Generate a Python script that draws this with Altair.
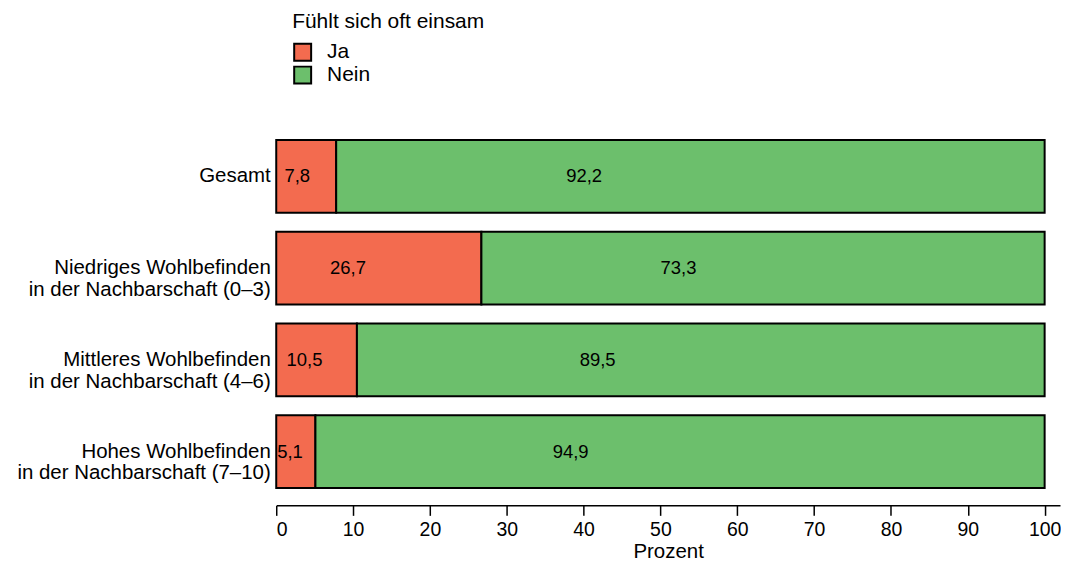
import altair as alt
import pandas as pd

groups = [
    "Gesamt",
    "Niedriges Wohlbefinden\nin der Nachbarschaft (0–3)",
    "Mittleres Wohlbefinden\nin der Nachbarschaft (4–6)",
    "Hohes Wohlbefinden\nin der Nachbarschaft (7–10)",
]
ja_values = [7.8, 26.7, 10.5, 5.1]
nein_values = [92.2, 73.3, 89.5, 94.9]
categories = ["Ja", "Nein"]
colors = ["#F36B4F", "#6CBF6C"]
x_ticks = [0, 10, 20, 30, 40, 50, 60, 70, 80, 90, 100]

rows = []
for g, ja, nein in zip(groups, ja_values, nein_values):
    rows.append({"group": g, "cat": "Ja", "value": ja, "start": 0.0, "end": ja, "order": 0})
    rows.append({"group": g, "cat": "Nein", "value": nein, "start": ja, "end": ja + nein, "order": 1})
df = pd.DataFrame(rows)

FONT = "Liberation Sans"

y_enc = alt.Y(
    "group:N",
    sort=groups,
    scale=alt.Scale(paddingInner=0.207, paddingOuter=0.1035),
    axis=alt.Axis(
        title=None,
        domain=False,
        ticks=False,
        labelPadding=6,
        labelFontSize=20.5,
        labelLineHeight=22,
        labelLimit=0,
        labelColor="black",
        labelFont=FONT,
        labelExpr="split(datum.label, '\\n')",
    ),
)

bars = alt.Chart(df).mark_bar(stroke="black", strokeWidth=2).encode(
    x=alt.X(
        "start:Q",
        scale=alt.Scale(domain=[0, 102], nice=False, zero=False),
        axis=alt.Axis(
            title="Prozent",
            values=x_ticks,
            grid=False,
            domainColor="black",
            domainWidth=1.5,
            tickColor="black",
            tickWidth=1.5,
            tickSize=10,
            labelFontSize=19.5,
            labelPadding=5,
            labelColor="black",
            labelFont=FONT,
            titleFontSize=20.5,
            titleFont=FONT,
            titleFontWeight="normal",
            titleColor="black",
            titlePadding=3,
            offset=8,
        ),
    ),
    x2="end:Q",
    y=y_enc,
    color=alt.Color(
        "cat:N",
        scale=alt.Scale(domain=categories, range=colors),
        legend=alt.Legend(
            title="Fühlt sich oft einsam",
            orient="none",
            legendX=16,
            legendY=-120,
            titleFontSize=21,
            titleFont=FONT,
            titleFontWeight="normal",
            titleColor="black",
            titlePadding=10,
            titleLimit=500,
            labelFontSize=21,
            labelFont=FONT,
            labelColor="black",
            labelOffset=14,
            labelLimit=300,
            symbolType="square",
            symbolSize=289,
            symbolStrokeColor="black",
            symbolStrokeWidth=2,
            symbolOpacity=1,
            rowPadding=-5,
        ),
    ),
    order="order:Q",
)

labels = alt.Chart(df).transform_calculate(
    pos="datum.start + 0.35 * datum.value",
    lbl="replace(format(datum.value, '.1f'), '.', ',')",
).mark_text(fontSize=18.5, font=FONT, color="black", align="center", baseline="middle").encode(
    x="pos:Q",
    y=alt.Y("group:N", sort=groups),
    text="lbl:N",
)

chart = (
    alt.layer(bars, labels)
    .properties(width=786, height=368, padding={"left": 8, "top": 2, "right": 0, "bottom": 0})
    .configure_view(stroke=None)
)

chart.save("out.html", embed_options={"renderer": "svg", "actions": False})
